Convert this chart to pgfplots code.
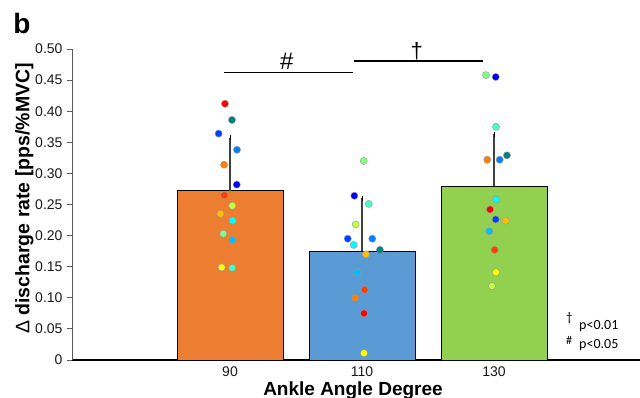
\documentclass[border=0pt]{standalone}
\usepackage{fontspec}
\setmainfont{Liberation Sans}
\newfontfamily\calibri{Carlito}
\usepackage{pgfplots}
\usepackage{pgfplotstable}
\pgfplotsset{compat=1.18}

\definecolor{barA}{HTML}{ED7D31}
\definecolor{barB}{HTML}{5B9BD5}
\definecolor{barC}{HTML}{92D050}
\definecolor{cRed}{HTML}{FF0000}
\definecolor{cTeal}{HTML}{008080}
\definecolor{cBlue}{HTML}{0040FF}
\definecolor{cDodger}{HTML}{0080FF}
\definecolor{cOrange}{HTML}{FF8000}
\definecolor{cDark}{HTML}{0000F0}
\definecolor{cOrRed}{HTML}{FF4000}
\definecolor{cYGreen}{HTML}{BFFF40}
\definecolor{cGold}{HTML}{FFBF00}
\definecolor{cCyan}{HTML}{00FFFF}
\definecolor{cLGreen}{HTML}{80FF80}
\definecolor{cSky}{HTML}{00BFFF}
\definecolor{cYellow}{HTML}{FFFF00}
\definecolor{cAqua}{HTML}{40FFBF}

\pgfplotstableread{
x y err
1 0.272 0.085
2 0.175 0.085
3 0.279 0.084
}\bars

\pgfplotstableread{
x y c
0.962 0.412 red
1.015 0.386 teal
0.914 0.364 blue
1.053 0.338 dodger
0.955 0.314 orange
1.051 0.282 dark
0.957 0.265 orred
1.017 0.248 ygreen
0.927 0.235 gold
1.020 0.224 cyan
0.949 0.203 lgreen
1.020 0.193 sky
0.937 0.149 yellow
1.017 0.148 aqua
2.013 0.320 lgreen
1.942 0.264 dark
2.051 0.251 aqua
1.952 0.218 ygreen
1.892 0.195 blue
2.078 0.195 dodger
1.937 0.185 cyan
2.136 0.177 teal
2.030 0.170 gold
1.964 0.141 sky
2.020 0.113 orred
1.949 0.100 orange
2.015 0.075 red
2.015 0.011 yellow
2.939 0.458 lgreen
3.013 0.455 dark
3.015 0.375 aqua
2.949 0.322 orange
3.043 0.322 dodger
3.098 0.329 teal
3.015 0.258 cyan
2.970 0.242 red
3.013 0.226 blue
3.089 0.224 gold
2.964 0.207 sky
3.005 0.177 orred
3.015 0.141 yellow
2.985 0.119 ygreen
}\dots

\begin{document}
\begin{tikzpicture}
\begin{axis}[
  at={(72bp,38bp)}, anchor=south west,
  scale only axis, width=568bp, height=311bp,
  xmin=-0.197, xmax=4.106, ymin=0, ymax=0.5,
  clip=false,
  axis x line*=bottom, axis y line*=left,
  x axis line style={-, black, line width=1.6pt},
  y axis line style={-, black!65, line width=0.9pt},
  xtick={1,2,3}, xticklabels={90,110,130},
  ytick={0,0.05,0.10,0.15,0.20,0.25,0.30,0.35,0.40,0.45,0.50},
  yticklabels={0,0.05,0.10,0.15,0.20,0.25,0.30,0.35,0.40,0.45,0.50},
  /pgf/number format/assume math mode=true,
  tick align=outside,
  major tick length=5bp,
  x tick style={draw=none},
  y tick style={black!65, line width=0.9pt},
  tick label style={font=\fontsize{14bp}{14bp}\selectfont, text=black!90},
  xticklabel style={inner sep=0pt, yshift=-1.7bp},
  yticklabel style={xshift=-1bp},
  xlabel={\bfseries Ankle Angle Degree},
  ylabel={{\mdseries Δ} \bfseries discharge rate [pps/\%MVC]},
  label style={font=\fontsize{19.5bp}{20bp}\selectfont},
  xlabel style={at={(axis description cs:0.5,0)}, anchor=base, inner sep=0pt, yshift=-35.5bp, xshift=-3bp, font=\fontsize{19bp}{19bp}\selectfont},
  ylabel style={yshift=-5bp, xshift=6bp},
]
\addplot[ybar, bar width=0.803, bar shift=0pt, fill=barA, draw=black, line width=0.8pt,
  error bars/.cd, y dir=plus, y explicit,
  error bar style={line width=1.3pt, black!75},
  error mark options={black, line width=0.9pt, mark size=2.5pt}]
  table[x=x, y=y, y error=err, restrict expr to domain={\thisrow{x}}{1:1}] {\bars};
\addplot[ybar, bar width=0.803, bar shift=0pt, fill=barB, draw=black, line width=0.8pt,
  error bars/.cd, y dir=plus, y explicit,
  error bar style={line width=1.3pt, black!75},
  error mark options={black, line width=0.9pt, mark size=2.5pt}]
  table[x=x, y=y, y error=err, restrict expr to domain={\thisrow{x}}{2:2}] {\bars};
\addplot[ybar, bar width=0.803, bar shift=0pt, fill=barC, draw=black, line width=0.8pt,
  error bars/.cd, y dir=plus, y explicit,
  error bar style={line width=1.3pt, black!75},
  error mark options={black, line width=0.9pt, mark size=2.5pt}]
  table[x=x, y=y, y error=err, restrict expr to domain={\thisrow{x}}{3:3}] {\bars};

\addplot[scatter, only marks, mark=*, mark size=3.6bp,
  scatter src=explicit symbolic,
  scatter/classes={
    red={mark=*, fill=cRed, draw=black!40},
    teal={mark=*, fill=cTeal, draw=black!40},
    blue={mark=*, fill=cBlue, draw=black!40},
    dodger={mark=*, fill=cDodger, draw=black!40},
    orange={mark=*, fill=cOrange, draw=black!40},
    dark={mark=*, fill=cDark, draw=black!40},
    orred={mark=*, fill=cOrRed, draw=black!40},
    ygreen={mark=*, fill=cYGreen, draw=black!40},
    gold={mark=*, fill=cGold, draw=black!40},
    cyan={mark=*, fill=cCyan, draw=black!40},
    lgreen={mark=*, fill=cLGreen, draw=black!40},
    sky={mark=*, fill=cSky, draw=black!40},
    yellow={mark=*, fill=cYellow, draw=black!40},
    aqua={mark=*, fill=cAqua, draw=black!40}}]
  table[x=x, y=y, meta=c] {\dots};

\addplot[black, line width=1.6pt] coordinates {(0.955,0.4625) (1.928,0.4625)};
\addplot[black, line width=1.6pt] coordinates {(1.939,0.4807) (2.914,0.4807)};
\node[font=\fontsize{24bp}{24bp}\selectfont] at (axis cs:1.43,0.4796) {\#};
\node[font=\fontsize{22bp}{22bp}\selectfont] at (axis cs:2.414,0.4968) {†};
\end{axis}
\node[font=\fontsize{28bp}{28bp}\selectfont\bfseries] at (22bp,375bp) {b};
\node[anchor=base west, inner sep=0pt, font=\calibri\fontsize{13bp}{13bp}\selectfont] at (566bp,76bp) {†};
\node[anchor=base west, inner sep=0pt, font=\calibri\fontsize{14bp}{14bp}\selectfont] at (579bp,68bp) {p<0.01};
\node[anchor=base west, inner sep=0pt, font=\calibri\fontsize{12bp}{12bp}\selectfont] at (566bp,53bp) {\#};
\node[anchor=base west, inner sep=0pt, font=\calibri\fontsize{14bp}{14bp}\selectfont] at (579bp,49bp) {p<0.05};
\pgfresetboundingbox
\useasboundingbox (0,0) rectangle (640bp,398bp);
\end{tikzpicture}
\end{document}
